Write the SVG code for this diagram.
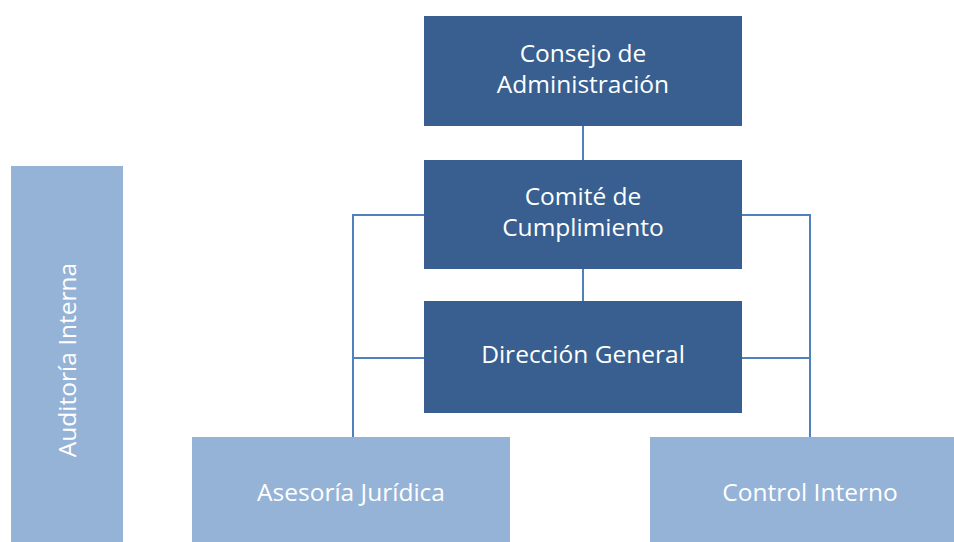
<svg xmlns="http://www.w3.org/2000/svg" width="954" height="542" viewBox="0 0 954 542">
<style>
.dark{fill:#385F8F}
.light{fill:#95B3D7}
.t{font-family:"Open Sans","Noto Sans",sans-serif;font-size:24.5px;fill:#FFFFFF;text-anchor:middle}
.conn{stroke:#4F81BD;stroke-width:2;fill:none}
</style>
<rect width="954" height="542" fill="#FFFFFF"/>
<g id="connectors">
<line class="conn" x1="583" y1="126" x2="583" y2="160"/>
<line class="conn" x1="583" y1="269" x2="583" y2="301"/>
<polyline class="conn" points="424,215 353,215 353,437"/>
<line class="conn" x1="353" y1="358" x2="424" y2="358"/>
<polyline class="conn" points="742,215 810,215 810,437"/>
<line class="conn" x1="742" y1="358" x2="810" y2="358"/>
</g>
<g id="consejo">
<rect class="dark" x="424" y="16" width="318" height="110"/>
<text class="t" x="583" y="62">Consejo de</text>
<text class="t" x="583" y="93">Administración</text>
</g>
<g id="comite">
<rect class="dark" x="424" y="160" width="318" height="109"/>
<text class="t" x="583" y="205">Comité de</text>
<text class="t" x="583" y="236">Cumplimiento</text>
</g>
<g id="direccion">
<rect class="dark" x="424" y="301" width="318" height="112"/>
<text class="t" x="583" y="363">Dirección General</text>
</g>
<g id="auditoria">
<rect class="light" x="11" y="166" width="112" height="376"/>
<text class="t" transform="translate(76,360) rotate(-90)" x="0" y="0">Auditoría Interna</text>
</g>
<g id="asesoria">
<rect class="light" x="192" y="437" width="318" height="105"/>
<text class="t" x="351" y="501">Asesoría Jurídica</text>
</g>
<g id="control">
<rect class="light" x="650" y="437" width="304" height="105"/>
<text class="t" x="810" y="501">Control Interno</text>
</g>
</svg>
